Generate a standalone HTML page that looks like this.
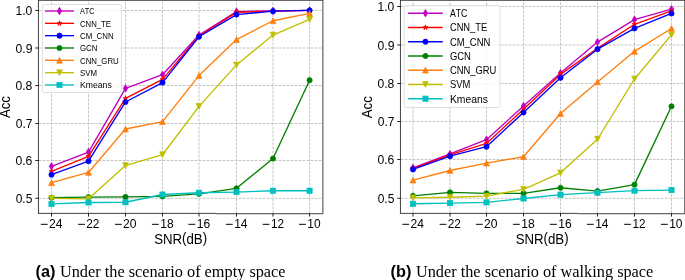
<!DOCTYPE html>
<html><head><meta charset="utf-8"><title>Acc vs SNR</title>
<style>
html,body{margin:0;padding:0;background:#fff;}
body{width:685px;height:280px;overflow:hidden;font-family:"Liberation Sans",sans-serif;}
svg{display:block;will-change:transform;}
text{white-space:pre;font-kerning:none;font-variant-ligatures:none;}
</style></head><body>
<svg width="685" height="280" viewBox="0 0 685 280">
<g font-family="Liberation Sans, sans-serif" fill="#000">
<path d="M51.5 213.4V0.3M88.5 213.4V0.3M125.5 213.4V0.3M162.5 213.4V0.3M199 213.4V0.3M236.5 213.4V0.3M273 213.4V0.3M309.6 213.4V0.3M38.45 198.3H322.9M38.45 160.5H322.9M38.45 123.5H322.9M38.45 85.5H322.9M38.45 48H322.9M38.45 10.5H322.9" stroke="#b0b0b0" stroke-width="0.75" stroke-dasharray="2.7 1.3" stroke-dashoffset="-0.35" fill="none"/>
<polyline points="51.5,166.32 88.5,152.05 125.5,88.39 162.5,74.68 199,35.05 236.5,11.58 273,10.83 309.6,10.45" fill="none" stroke="#bf00bf" stroke-width="1.35" stroke-linejoin="round" stroke-linecap="butt"/>
<polygon points="51.5,162.65 53.71,166.32 51.5,170 49.29,166.32" fill="#bf00bf" stroke="#bf00bf" stroke-width="0.75" stroke-linejoin="miter"/>
<polygon points="88.5,148.37 90.71,152.05 88.5,155.73 86.29,152.05" fill="#bf00bf" stroke="#bf00bf" stroke-width="0.75" stroke-linejoin="miter"/>
<polygon points="125.5,84.71 127.71,88.39 125.5,92.06 123.29,88.39" fill="#bf00bf" stroke="#bf00bf" stroke-width="0.75" stroke-linejoin="miter"/>
<polygon points="162.5,71 164.71,74.68 162.5,78.35 160.29,74.68" fill="#bf00bf" stroke="#bf00bf" stroke-width="0.75" stroke-linejoin="miter"/>
<polygon points="199,31.37 201.21,35.05 199,38.73 196.79,35.05" fill="#bf00bf" stroke="#bf00bf" stroke-width="0.75" stroke-linejoin="miter"/>
<polygon points="236.5,7.9 238.71,11.58 236.5,15.25 234.29,11.58" fill="#bf00bf" stroke="#bf00bf" stroke-width="0.75" stroke-linejoin="miter"/>
<polygon points="273,7.15 275.21,10.83 273,14.5 270.79,10.83" fill="#bf00bf" stroke="#bf00bf" stroke-width="0.75" stroke-linejoin="miter"/>
<polygon points="309.6,6.77 311.81,10.45 309.6,14.13 307.39,10.45" fill="#bf00bf" stroke="#bf00bf" stroke-width="0.75" stroke-linejoin="miter"/>
<polyline points="51.5,171.39 88.5,156.37 125.5,98.34 162.5,79.37 199,35.99 236.5,12.33 273,11.2 309.6,10.45" fill="none" stroke="#ff0000" stroke-width="1.35" stroke-linejoin="round" stroke-linecap="butt"/>
<polygon points="51.5,168.79 50.92,170.59 49.03,170.59 50.56,171.7 49.97,173.5 51.5,172.39 53.03,173.5 52.44,171.7 53.97,170.59 52.08,170.59" fill="#ff0000" stroke="#ff0000" stroke-width="0.75" stroke-linejoin="miter"/>
<polygon points="88.5,153.77 87.92,155.57 86.03,155.57 87.56,156.68 86.97,158.47 88.5,157.36 90.03,158.47 89.44,156.68 90.97,155.57 89.08,155.57" fill="#ff0000" stroke="#ff0000" stroke-width="0.75" stroke-linejoin="miter"/>
<polygon points="125.5,95.74 124.92,97.54 123.03,97.54 124.56,98.65 123.97,100.44 125.5,99.33 127.03,100.44 126.44,98.65 127.97,97.54 126.08,97.54" fill="#ff0000" stroke="#ff0000" stroke-width="0.75" stroke-linejoin="miter"/>
<polygon points="162.5,76.77 161.92,78.57 160.03,78.57 161.56,79.68 160.97,81.48 162.5,80.37 164.03,81.48 163.44,79.68 164.97,78.57 163.08,78.57" fill="#ff0000" stroke="#ff0000" stroke-width="0.75" stroke-linejoin="miter"/>
<polygon points="199,33.39 198.42,35.19 196.53,35.19 198.06,36.3 197.47,38.09 199,36.98 200.53,38.09 199.94,36.3 201.47,35.19 199.58,35.19" fill="#ff0000" stroke="#ff0000" stroke-width="0.75" stroke-linejoin="miter"/>
<polygon points="236.5,9.73 235.92,11.52 234.03,11.52 235.56,12.63 234.97,14.43 236.5,13.32 238.03,14.43 237.44,12.63 238.97,11.52 237.08,11.52" fill="#ff0000" stroke="#ff0000" stroke-width="0.75" stroke-linejoin="miter"/>
<polygon points="273,8.6 272.42,10.4 270.53,10.4 272.06,11.51 271.47,13.3 273,12.19 274.53,13.3 273.94,11.51 275.47,10.4 273.58,10.4" fill="#ff0000" stroke="#ff0000" stroke-width="0.75" stroke-linejoin="miter"/>
<polygon points="309.6,7.85 309.02,9.65 307.13,9.65 308.66,10.76 308.07,12.55 309.6,11.44 311.13,12.55 310.54,10.76 312.07,9.65 310.18,9.65" fill="#ff0000" stroke="#ff0000" stroke-width="0.75" stroke-linejoin="miter"/>
<polyline points="51.5,174.7 88.5,161.22 125.5,101.98 162.5,82.6 199,36.74 236.5,14.58 273,11.2 309.6,10.45" fill="none" stroke="#0000ff" stroke-width="1.35" stroke-linejoin="round" stroke-linecap="butt"/>
<circle cx="51.5" cy="174.7" r="2.6" fill="#0000ff" stroke="#0000ff" stroke-width="0.75" stroke-linejoin="miter"/>
<circle cx="88.5" cy="161.22" r="2.6" fill="#0000ff" stroke="#0000ff" stroke-width="0.75" stroke-linejoin="miter"/>
<circle cx="125.5" cy="101.98" r="2.6" fill="#0000ff" stroke="#0000ff" stroke-width="0.75" stroke-linejoin="miter"/>
<circle cx="162.5" cy="82.6" r="2.6" fill="#0000ff" stroke="#0000ff" stroke-width="0.75" stroke-linejoin="miter"/>
<circle cx="199" cy="36.74" r="2.6" fill="#0000ff" stroke="#0000ff" stroke-width="0.75" stroke-linejoin="miter"/>
<circle cx="236.5" cy="14.58" r="2.6" fill="#0000ff" stroke="#0000ff" stroke-width="0.75" stroke-linejoin="miter"/>
<circle cx="273" cy="11.2" r="2.6" fill="#0000ff" stroke="#0000ff" stroke-width="0.75" stroke-linejoin="miter"/>
<circle cx="309.6" cy="10.45" r="2.6" fill="#0000ff" stroke="#0000ff" stroke-width="0.75" stroke-linejoin="miter"/>
<polyline points="51.5,197.65 88.5,197.05 125.5,196.94 162.5,196.37 199,193.86 236.5,188.3 273,158.55 309.6,80.2" fill="none" stroke="#008000" stroke-width="1.35" stroke-linejoin="round" stroke-linecap="butt"/>
<circle cx="51.5" cy="197.65" r="2.6" fill="#008000" stroke="#008000" stroke-width="0.75" stroke-linejoin="miter"/>
<circle cx="88.5" cy="197.05" r="2.6" fill="#008000" stroke="#008000" stroke-width="0.75" stroke-linejoin="miter"/>
<circle cx="125.5" cy="196.94" r="2.6" fill="#008000" stroke="#008000" stroke-width="0.75" stroke-linejoin="miter"/>
<circle cx="162.5" cy="196.37" r="2.6" fill="#008000" stroke="#008000" stroke-width="0.75" stroke-linejoin="miter"/>
<circle cx="199" cy="193.86" r="2.6" fill="#008000" stroke="#008000" stroke-width="0.75" stroke-linejoin="miter"/>
<circle cx="236.5" cy="188.3" r="2.6" fill="#008000" stroke="#008000" stroke-width="0.75" stroke-linejoin="miter"/>
<circle cx="273" cy="158.55" r="2.6" fill="#008000" stroke="#008000" stroke-width="0.75" stroke-linejoin="miter"/>
<circle cx="309.6" cy="80.2" r="2.6" fill="#008000" stroke="#008000" stroke-width="0.75" stroke-linejoin="miter"/>
<polyline points="51.5,182.7 88.5,172.45 125.5,129.03 162.5,121.7 199,75.58 236.5,39.56 273,20.74 309.6,13.45" fill="none" stroke="#ff7f0e" stroke-width="1.35" stroke-linejoin="round" stroke-linecap="butt"/>
<polygon points="51.5,179.84 48.64,185.56 54.36,185.56" fill="#ff7f0e" stroke="#ff7f0e" stroke-width="0.75" stroke-linejoin="miter"/>
<polygon points="88.5,169.59 85.64,175.31 91.36,175.31" fill="#ff7f0e" stroke="#ff7f0e" stroke-width="0.75" stroke-linejoin="miter"/>
<polygon points="125.5,126.17 122.64,131.89 128.36,131.89" fill="#ff7f0e" stroke="#ff7f0e" stroke-width="0.75" stroke-linejoin="miter"/>
<polygon points="162.5,118.84 159.64,124.56 165.36,124.56" fill="#ff7f0e" stroke="#ff7f0e" stroke-width="0.75" stroke-linejoin="miter"/>
<polygon points="199,72.72 196.14,78.44 201.86,78.44" fill="#ff7f0e" stroke="#ff7f0e" stroke-width="0.75" stroke-linejoin="miter"/>
<polygon points="236.5,36.7 233.64,42.42 239.36,42.42" fill="#ff7f0e" stroke="#ff7f0e" stroke-width="0.75" stroke-linejoin="miter"/>
<polygon points="273,17.88 270.14,23.6 275.86,23.6" fill="#ff7f0e" stroke="#ff7f0e" stroke-width="0.75" stroke-linejoin="miter"/>
<polygon points="309.6,10.59 306.74,16.31 312.46,16.31" fill="#ff7f0e" stroke="#ff7f0e" stroke-width="0.75" stroke-linejoin="miter"/>
<polyline points="51.5,198.36 88.5,198.81 125.5,165.57 162.5,154.72 199,106.42 236.5,64.91 273,35.05 309.6,19.46" fill="none" stroke="#bfbf00" stroke-width="1.35" stroke-linejoin="round" stroke-linecap="butt"/>
<polygon points="51.5,201.22 48.64,195.5 54.36,195.5" fill="#bfbf00" stroke="#bfbf00" stroke-width="0.75" stroke-linejoin="miter"/>
<polygon points="88.5,201.67 85.64,195.95 91.36,195.95" fill="#bfbf00" stroke="#bfbf00" stroke-width="0.75" stroke-linejoin="miter"/>
<polygon points="125.5,168.43 122.64,162.71 128.36,162.71" fill="#bfbf00" stroke="#bfbf00" stroke-width="0.75" stroke-linejoin="miter"/>
<polygon points="162.5,157.58 159.64,151.86 165.36,151.86" fill="#bfbf00" stroke="#bfbf00" stroke-width="0.75" stroke-linejoin="miter"/>
<polygon points="199,109.28 196.14,103.56 201.86,103.56" fill="#bfbf00" stroke="#bfbf00" stroke-width="0.75" stroke-linejoin="miter"/>
<polygon points="236.5,67.77 233.64,62.05 239.36,62.05" fill="#bfbf00" stroke="#bfbf00" stroke-width="0.75" stroke-linejoin="miter"/>
<polygon points="273,37.91 270.14,32.19 275.86,32.19" fill="#bfbf00" stroke="#bfbf00" stroke-width="0.75" stroke-linejoin="miter"/>
<polygon points="309.6,22.32 306.74,16.6 312.46,16.6" fill="#bfbf00" stroke="#bfbf00" stroke-width="0.75" stroke-linejoin="miter"/>
<polyline points="51.5,203.92 88.5,202.46 125.5,202.27 162.5,194.53 199,192.73 236.5,192.05 273,190.74 309.6,190.74" fill="none" stroke="#00bfbf" stroke-width="1.35" stroke-linejoin="round" stroke-linecap="butt"/>
<rect x="48.9" y="201.32" width="5.2" height="5.2" fill="#00bfbf" stroke="#00bfbf" stroke-width="0.75" stroke-linejoin="miter"/>
<rect x="85.9" y="199.86" width="5.2" height="5.2" fill="#00bfbf" stroke="#00bfbf" stroke-width="0.75" stroke-linejoin="miter"/>
<rect x="122.9" y="199.67" width="5.2" height="5.2" fill="#00bfbf" stroke="#00bfbf" stroke-width="0.75" stroke-linejoin="miter"/>
<rect x="159.9" y="191.93" width="5.2" height="5.2" fill="#00bfbf" stroke="#00bfbf" stroke-width="0.75" stroke-linejoin="miter"/>
<rect x="196.4" y="190.13" width="5.2" height="5.2" fill="#00bfbf" stroke="#00bfbf" stroke-width="0.75" stroke-linejoin="miter"/>
<rect x="233.9" y="189.45" width="5.2" height="5.2" fill="#00bfbf" stroke="#00bfbf" stroke-width="0.75" stroke-linejoin="miter"/>
<rect x="270.4" y="188.14" width="5.2" height="5.2" fill="#00bfbf" stroke="#00bfbf" stroke-width="0.75" stroke-linejoin="miter"/>
<rect x="307" y="188.14" width="5.2" height="5.2" fill="#00bfbf" stroke="#00bfbf" stroke-width="0.75" stroke-linejoin="miter"/>
<path d="M38.1 0.3H323.25M38.1 213.4H216.15" stroke="#000" stroke-width="0.75" fill="none"/>
<path d="M216.15 213.72H323.25" stroke="#000" stroke-width="0.75" fill="none"/>
<path d="M38.45 0.3V213.4M322.9 0.3V213.4" stroke="#000" stroke-width="0.75" fill="none"/>
<path d="M51.5 213.4v3.2M88.5 213.4v3.2M125.5 213.4v3.2M162.5 213.4v3.2M199 213.4v3.2M236.5 213.4v3.2M273 213.4v3.2M309.6 213.4v3.2M38.45 198.3h-3.2M38.45 160.5h-3.2M38.45 123.5h-3.2M38.45 85.5h-3.2M38.45 48h-3.2M38.45 10.5h-3.2" stroke="#000" stroke-width="0.85" fill="none"/>
<rect x="40.88" y="223.82" width="6.82" height="0.98"/><text transform="translate(49.05,228) scale(0.9673,1)" font-size="12.47">24</text>
<rect x="78.12" y="223.82" width="6.82" height="0.98"/><text transform="translate(86.3,228) scale(0.9493,1)" font-size="12.47">22</text>
<rect x="114.94" y="223.82" width="6.82" height="0.98"/><text transform="translate(123.11,228) scale(0.9677,1)" font-size="12.47">20</text>
<rect x="151.95" y="223.82" width="6.82" height="0.98"/><text transform="translate(160.21,228) scale(0.9632,1)" font-size="12.47">18</text>
<rect x="188.42" y="223.82" width="6.82" height="0.98"/><text transform="translate(196.67,228) scale(0.9685,1)" font-size="12.47">16</text>
<rect x="225.88" y="223.82" width="6.82" height="0.98"/><text transform="translate(234.14,228) scale(0.9604,1)" font-size="12.47">14</text>
<rect x="262.62" y="223.82" width="6.82" height="0.98"/><text transform="translate(270.9,228) scale(0.9418,1)" font-size="12.47">12</text>
<rect x="299.04" y="223.82" width="6.82" height="0.98"/><text transform="translate(307.3,228) scale(0.9608,1)" font-size="12.47">10</text>
<text transform="translate(15.72,203.05) scale(0.9593,1)" font-size="12.47">0.5</text>
<text transform="translate(15.44,165.25) scale(0.9770,1)" font-size="12.47">0.6</text>
<text transform="translate(15.69,128.25) scale(0.9667,1)" font-size="12.47">0.7</text>
<text transform="translate(15.51,90.25) scale(0.9730,1)" font-size="12.47">0.8</text>
<text transform="translate(15.53,52.75) scale(0.9747,1)" font-size="12.47">0.9</text>
<text transform="translate(15.52,15.25) scale(0.9693,1)" font-size="12.47">1.0</text>
<text transform="translate(154.13,243.6) scale(0.9123,1)" font-size="14.51">SNR<tspan dy="-0.8">(</tspan><tspan dy="0.8">dB</tspan><tspan dy="-0.8">)</tspan></text>
<g transform="translate(9.7,107.2) rotate(-90)"><text transform="translate(-10.88,0) scale(0.9131,1)" font-size="14.51">Acc</text></g>
<rect x="42.5" y="4.5" width="79" height="88" rx="1.5" fill="#fff" fill-opacity="0.8" stroke="#cccccc" stroke-opacity="0.8" stroke-width="0.75"/>
<path d="M45 11H74" stroke="#bf00bf" stroke-width="1.35"/>
<polygon points="59.5,7.32 61.71,11 59.5,14.68 57.29,11" fill="#bf00bf" stroke="#bf00bf" stroke-width="0.75" stroke-linejoin="miter"/>
<text transform="translate(79.99,14.25) scale(0.8003,1)" font-size="9.1">ATC</text>
<path d="M45 23.33H74" stroke="#ff0000" stroke-width="1.35"/>
<polygon points="59.5,20.73 58.92,22.53 57.03,22.53 58.56,23.64 57.97,25.43 59.5,24.32 61.03,25.43 60.44,23.64 61.97,22.53 60.08,22.53" fill="#ff0000" stroke="#ff0000" stroke-width="0.75" stroke-linejoin="miter"/>
<text transform="translate(79.99,26.58) scale(0.8538,1)" font-size="9.1">CNN_TE</text>
<path d="M45 35.66H74" stroke="#0000ff" stroke-width="1.35"/>
<circle cx="59.5" cy="35.66" r="2.6" fill="#0000ff" stroke="#0000ff" stroke-width="0.75" stroke-linejoin="miter"/>
<text transform="translate(79.99,38.91) scale(0.8645,1)" font-size="9.1">CM_CNN</text>
<path d="M45 47.99H74" stroke="#008000" stroke-width="1.35"/>
<circle cx="59.5" cy="47.99" r="2.6" fill="#008000" stroke="#008000" stroke-width="0.75" stroke-linejoin="miter"/>
<text transform="translate(79.99,51.24) scale(0.8641,1)" font-size="9.1">GCN</text>
<path d="M45 60.32H74" stroke="#ff7f0e" stroke-width="1.35"/>
<polygon points="59.5,57.46 56.64,63.18 62.36,63.18" fill="#ff7f0e" stroke="#ff7f0e" stroke-width="0.75" stroke-linejoin="miter"/>
<text transform="translate(79.99,63.57) scale(0.8623,1)" font-size="9.1">CNN_GRU</text>
<path d="M45 72.65H74" stroke="#bfbf00" stroke-width="1.35"/>
<polygon points="59.5,75.51 56.64,69.79 62.36,69.79" fill="#bfbf00" stroke="#bfbf00" stroke-width="0.75" stroke-linejoin="miter"/>
<text transform="translate(80.11,75.9) scale(0.8646,1)" font-size="9.1">SVM</text>
<path d="M45 84.98H74" stroke="#00bfbf" stroke-width="1.35"/>
<rect x="56.9" y="82.38" width="5.2" height="5.2" fill="#00bfbf" stroke="#00bfbf" stroke-width="0.75" stroke-linejoin="miter"/>
<text transform="translate(80.01,88.23) scale(0.9515,1)" font-size="9.1">Kmeans</text>
<path d="M413 213.4V0.3M450 213.4V0.3M486.5 213.4V0.3M523.5 213.4V0.3M560.5 213.4V0.3M597.5 213.4V0.3M634.5 213.4V0.3M671.5 213.4V0.3M400.45 198.3H684.8M400.45 159.5H684.8M400.45 121.5H684.8M400.45 83.5H684.8M400.45 45H684.8M400.45 6.5H684.8" stroke="#b0b0b0" stroke-width="0.75" stroke-dasharray="2.7 1.3" stroke-dashoffset="-0.35" fill="none"/>
<polyline points="413,167.8 450,153.99 486.5,139.69 523.5,106.01 560.5,73.02 597.5,42.1 634.5,19.62 671.5,9.19" fill="none" stroke="#bf00bf" stroke-width="1.35" stroke-linejoin="round" stroke-linecap="butt"/>
<polygon points="413,164.13 415.21,167.8 413,171.48 410.79,167.8" fill="#bf00bf" stroke="#bf00bf" stroke-width="0.75" stroke-linejoin="miter"/>
<polygon points="450,150.32 452.21,153.99 450,157.67 447.79,153.99" fill="#bf00bf" stroke="#bf00bf" stroke-width="0.75" stroke-linejoin="miter"/>
<polygon points="486.5,136.01 488.71,139.69 486.5,143.36 484.29,139.69" fill="#bf00bf" stroke="#bf00bf" stroke-width="0.75" stroke-linejoin="miter"/>
<polygon points="523.5,102.33 525.71,106.01 523.5,109.68 521.29,106.01" fill="#bf00bf" stroke="#bf00bf" stroke-width="0.75" stroke-linejoin="miter"/>
<polygon points="560.5,69.34 562.71,73.02 560.5,76.69 558.29,73.02" fill="#bf00bf" stroke="#bf00bf" stroke-width="0.75" stroke-linejoin="miter"/>
<polygon points="597.5,38.42 599.71,42.1 597.5,45.78 595.29,42.1" fill="#bf00bf" stroke="#bf00bf" stroke-width="0.75" stroke-linejoin="miter"/>
<polygon points="634.5,15.94 636.71,19.62 634.5,23.3 632.29,19.62" fill="#bf00bf" stroke="#bf00bf" stroke-width="0.75" stroke-linejoin="miter"/>
<polygon points="671.5,5.51 673.71,9.19 671.5,12.86 669.29,9.19" fill="#bf00bf" stroke="#bf00bf" stroke-width="0.75" stroke-linejoin="miter"/>
<polyline points="413,168.38 450,154.95 486.5,143.48 523.5,109.19 560.5,74.4 597.5,48.31 634.5,24.3 671.5,10.8" fill="none" stroke="#ff0000" stroke-width="1.35" stroke-linejoin="round" stroke-linecap="butt"/>
<polygon points="413,165.78 412.42,167.58 410.53,167.58 412.06,168.69 411.47,170.48 413,169.37 414.53,170.48 413.94,168.69 415.47,167.58 413.58,167.58" fill="#ff0000" stroke="#ff0000" stroke-width="0.75" stroke-linejoin="miter"/>
<polygon points="450,152.35 449.42,154.15 447.53,154.15 449.06,155.26 448.47,157.06 450,155.95 451.53,157.06 450.94,155.26 452.47,154.15 450.58,154.15" fill="#ff0000" stroke="#ff0000" stroke-width="0.75" stroke-linejoin="miter"/>
<polygon points="486.5,140.88 485.92,142.68 484.03,142.68 485.56,143.79 484.97,145.59 486.5,144.48 488.03,145.59 487.44,143.79 488.97,142.68 487.08,142.68" fill="#ff0000" stroke="#ff0000" stroke-width="0.75" stroke-linejoin="miter"/>
<polygon points="523.5,106.59 522.92,108.39 521.03,108.39 522.56,109.5 521.97,111.29 523.5,110.18 525.03,111.29 524.44,109.5 525.97,108.39 524.08,108.39" fill="#ff0000" stroke="#ff0000" stroke-width="0.75" stroke-linejoin="miter"/>
<polygon points="560.5,71.8 559.92,73.59 558.03,73.59 559.56,74.7 558.97,76.5 560.5,75.39 562.03,76.5 561.44,74.7 562.97,73.59 561.08,73.59" fill="#ff0000" stroke="#ff0000" stroke-width="0.75" stroke-linejoin="miter"/>
<polygon points="597.5,45.71 596.92,47.51 595.03,47.51 596.56,48.62 595.97,50.42 597.5,49.31 599.03,50.42 598.44,48.62 599.97,47.51 598.08,47.51" fill="#ff0000" stroke="#ff0000" stroke-width="0.75" stroke-linejoin="miter"/>
<polygon points="634.5,21.7 633.92,23.5 632.03,23.5 633.56,24.61 632.97,26.4 634.5,25.29 636.03,26.4 635.44,24.61 636.97,23.5 635.08,23.5" fill="#ff0000" stroke="#ff0000" stroke-width="0.75" stroke-linejoin="miter"/>
<polygon points="671.5,8.2 670.92,9.99 669.03,9.99 670.56,11.1 669.97,12.9 671.5,11.79 673.03,12.9 672.44,11.1 673.97,9.99 672.08,9.99" fill="#ff0000" stroke="#ff0000" stroke-width="0.75" stroke-linejoin="miter"/>
<polyline points="413,169.41 450,156.22 486.5,146.71 523.5,112.41 560.5,77.81 597.5,49.19 634.5,28.37 671.5,13.48" fill="none" stroke="#0000ff" stroke-width="1.35" stroke-linejoin="round" stroke-linecap="butt"/>
<circle cx="413" cy="169.41" r="2.6" fill="#0000ff" stroke="#0000ff" stroke-width="0.75" stroke-linejoin="miter"/>
<circle cx="450" cy="156.22" r="2.6" fill="#0000ff" stroke="#0000ff" stroke-width="0.75" stroke-linejoin="miter"/>
<circle cx="486.5" cy="146.71" r="2.6" fill="#0000ff" stroke="#0000ff" stroke-width="0.75" stroke-linejoin="miter"/>
<circle cx="523.5" cy="112.41" r="2.6" fill="#0000ff" stroke="#0000ff" stroke-width="0.75" stroke-linejoin="miter"/>
<circle cx="560.5" cy="77.81" r="2.6" fill="#0000ff" stroke="#0000ff" stroke-width="0.75" stroke-linejoin="miter"/>
<circle cx="597.5" cy="49.19" r="2.6" fill="#0000ff" stroke="#0000ff" stroke-width="0.75" stroke-linejoin="miter"/>
<circle cx="634.5" cy="28.37" r="2.6" fill="#0000ff" stroke="#0000ff" stroke-width="0.75" stroke-linejoin="miter"/>
<circle cx="671.5" cy="13.48" r="2.6" fill="#0000ff" stroke="#0000ff" stroke-width="0.75" stroke-linejoin="miter"/>
<polyline points="413,195.81 450,192.35 486.5,193.31 523.5,193.31 560.5,187.75 597.5,191.09 634.5,184.61 671.5,106.31" fill="none" stroke="#008000" stroke-width="1.35" stroke-linejoin="round" stroke-linecap="butt"/>
<circle cx="413" cy="195.81" r="2.6" fill="#008000" stroke="#008000" stroke-width="0.75" stroke-linejoin="miter"/>
<circle cx="450" cy="192.35" r="2.6" fill="#008000" stroke="#008000" stroke-width="0.75" stroke-linejoin="miter"/>
<circle cx="486.5" cy="193.31" r="2.6" fill="#008000" stroke="#008000" stroke-width="0.75" stroke-linejoin="miter"/>
<circle cx="523.5" cy="193.31" r="2.6" fill="#008000" stroke="#008000" stroke-width="0.75" stroke-linejoin="miter"/>
<circle cx="560.5" cy="187.75" r="2.6" fill="#008000" stroke="#008000" stroke-width="0.75" stroke-linejoin="miter"/>
<circle cx="597.5" cy="191.09" r="2.6" fill="#008000" stroke="#008000" stroke-width="0.75" stroke-linejoin="miter"/>
<circle cx="634.5" cy="184.61" r="2.6" fill="#008000" stroke="#008000" stroke-width="0.75" stroke-linejoin="miter"/>
<circle cx="671.5" cy="106.31" r="2.6" fill="#008000" stroke="#008000" stroke-width="0.75" stroke-linejoin="miter"/>
<polyline points="413,180.08 450,170.49 486.5,163.09 523.5,156.72 560.5,113.52 597.5,81.92 634.5,51.34 671.5,28.48" fill="none" stroke="#ff7f0e" stroke-width="1.35" stroke-linejoin="round" stroke-linecap="butt"/>
<polygon points="413,177.22 410.14,182.94 415.86,182.94" fill="#ff7f0e" stroke="#ff7f0e" stroke-width="0.75" stroke-linejoin="miter"/>
<polygon points="450,167.63 447.14,173.35 452.86,173.35" fill="#ff7f0e" stroke="#ff7f0e" stroke-width="0.75" stroke-linejoin="miter"/>
<polygon points="486.5,160.23 483.64,165.95 489.36,165.95" fill="#ff7f0e" stroke="#ff7f0e" stroke-width="0.75" stroke-linejoin="miter"/>
<polygon points="523.5,153.86 520.64,159.58 526.36,159.58" fill="#ff7f0e" stroke="#ff7f0e" stroke-width="0.75" stroke-linejoin="miter"/>
<polygon points="560.5,110.66 557.64,116.38 563.36,116.38" fill="#ff7f0e" stroke="#ff7f0e" stroke-width="0.75" stroke-linejoin="miter"/>
<polygon points="597.5,79.06 594.64,84.78 600.36,84.78" fill="#ff7f0e" stroke="#ff7f0e" stroke-width="0.75" stroke-linejoin="miter"/>
<polygon points="634.5,48.48 631.64,54.2 637.36,54.2" fill="#ff7f0e" stroke="#ff7f0e" stroke-width="0.75" stroke-linejoin="miter"/>
<polygon points="671.5,25.62 668.64,31.34 674.36,31.34" fill="#ff7f0e" stroke="#ff7f0e" stroke-width="0.75" stroke-linejoin="miter"/>
<polyline points="413,197.92 450,197.26 486.5,196.19 523.5,189.29 560.5,172.87 597.5,139.23 634.5,79 671.5,34.89" fill="none" stroke="#bfbf00" stroke-width="1.35" stroke-linejoin="round" stroke-linecap="butt"/>
<polygon points="413,200.78 410.14,195.06 415.86,195.06" fill="#bfbf00" stroke="#bfbf00" stroke-width="0.75" stroke-linejoin="miter"/>
<polygon points="450,200.12 447.14,194.4 452.86,194.4" fill="#bfbf00" stroke="#bfbf00" stroke-width="0.75" stroke-linejoin="miter"/>
<polygon points="486.5,199.05 483.64,193.33 489.36,193.33" fill="#bfbf00" stroke="#bfbf00" stroke-width="0.75" stroke-linejoin="miter"/>
<polygon points="523.5,192.15 520.64,186.43 526.36,186.43" fill="#bfbf00" stroke="#bfbf00" stroke-width="0.75" stroke-linejoin="miter"/>
<polygon points="560.5,175.73 557.64,170.01 563.36,170.01" fill="#bfbf00" stroke="#bfbf00" stroke-width="0.75" stroke-linejoin="miter"/>
<polygon points="597.5,142.09 594.64,136.37 600.36,136.37" fill="#bfbf00" stroke="#bfbf00" stroke-width="0.75" stroke-linejoin="miter"/>
<polygon points="634.5,81.86 631.64,76.14 637.36,76.14" fill="#bfbf00" stroke="#bfbf00" stroke-width="0.75" stroke-linejoin="miter"/>
<polygon points="671.5,37.75 668.64,32.03 674.36,32.03" fill="#bfbf00" stroke="#bfbf00" stroke-width="0.75" stroke-linejoin="miter"/>
<polyline points="413,203.79 450,203.09 486.5,202.4 523.5,198.49 560.5,194.66 597.5,192.66 634.5,190.7 671.5,190.09" fill="none" stroke="#00bfbf" stroke-width="1.35" stroke-linejoin="round" stroke-linecap="butt"/>
<rect x="410.4" y="201.19" width="5.2" height="5.2" fill="#00bfbf" stroke="#00bfbf" stroke-width="0.75" stroke-linejoin="miter"/>
<rect x="447.4" y="200.5" width="5.2" height="5.2" fill="#00bfbf" stroke="#00bfbf" stroke-width="0.75" stroke-linejoin="miter"/>
<rect x="483.9" y="199.8" width="5.2" height="5.2" fill="#00bfbf" stroke="#00bfbf" stroke-width="0.75" stroke-linejoin="miter"/>
<rect x="520.9" y="195.89" width="5.2" height="5.2" fill="#00bfbf" stroke="#00bfbf" stroke-width="0.75" stroke-linejoin="miter"/>
<rect x="557.9" y="192.06" width="5.2" height="5.2" fill="#00bfbf" stroke="#00bfbf" stroke-width="0.75" stroke-linejoin="miter"/>
<rect x="594.9" y="190.06" width="5.2" height="5.2" fill="#00bfbf" stroke="#00bfbf" stroke-width="0.75" stroke-linejoin="miter"/>
<rect x="631.9" y="188.1" width="5.2" height="5.2" fill="#00bfbf" stroke="#00bfbf" stroke-width="0.75" stroke-linejoin="miter"/>
<rect x="668.9" y="187.49" width="5.2" height="5.2" fill="#00bfbf" stroke="#00bfbf" stroke-width="0.75" stroke-linejoin="miter"/>
<path d="M400.1 0.3H685.15M400.1 213.4H578.15" stroke="#000" stroke-width="0.75" fill="none"/>
<path d="M578.15 213.72H685.15" stroke="#000" stroke-width="0.75" fill="none"/>
<path d="M400.45 0.3V213.4M684.8 0.3V213.4" stroke="#000" stroke-width="0.75" fill="none"/>
<path d="M413 213.4v3.2M450 213.4v3.2M486.5 213.4v3.2M523.5 213.4v3.2M560.5 213.4v3.2M597.5 213.4v3.2M634.5 213.4v3.2M671.5 213.4v3.2M400.45 198.3h-3.2M400.45 159.5h-3.2M400.45 121.5h-3.2M400.45 83.5h-3.2M400.45 45h-3.2M400.45 6.5h-3.2" stroke="#000" stroke-width="0.85" fill="none"/>
<rect x="402.38" y="223.82" width="6.82" height="0.98"/><text transform="translate(410.55,228) scale(0.9673,1)" font-size="12.47">24</text>
<rect x="439.62" y="223.82" width="6.82" height="0.98"/><text transform="translate(447.8,228) scale(0.9493,1)" font-size="12.47">22</text>
<rect x="475.94" y="223.82" width="6.82" height="0.98"/><text transform="translate(484.11,228) scale(0.9677,1)" font-size="12.47">20</text>
<rect x="512.95" y="223.82" width="6.82" height="0.98"/><text transform="translate(521.21,228) scale(0.9632,1)" font-size="12.47">18</text>
<rect x="549.92" y="223.82" width="6.82" height="0.98"/><text transform="translate(558.17,228) scale(0.9685,1)" font-size="12.47">16</text>
<rect x="586.88" y="223.82" width="6.82" height="0.98"/><text transform="translate(595.14,228) scale(0.9604,1)" font-size="12.47">14</text>
<rect x="624.12" y="223.82" width="6.82" height="0.98"/><text transform="translate(632.4,228) scale(0.9418,1)" font-size="12.47">12</text>
<rect x="660.94" y="223.82" width="6.82" height="0.98"/><text transform="translate(669.2,228) scale(0.9608,1)" font-size="12.47">10</text>
<text transform="translate(377.72,203.05) scale(0.9593,1)" font-size="12.47">0.5</text>
<text transform="translate(377.44,164.25) scale(0.9770,1)" font-size="12.47">0.6</text>
<text transform="translate(377.69,126.25) scale(0.9667,1)" font-size="12.47">0.7</text>
<text transform="translate(377.51,88.25) scale(0.9730,1)" font-size="12.47">0.8</text>
<text transform="translate(377.53,49.75) scale(0.9747,1)" font-size="12.47">0.9</text>
<text transform="translate(377.52,11.25) scale(0.9693,1)" font-size="12.47">1.0</text>
<text transform="translate(515.68,243.6) scale(0.9123,1)" font-size="14.51">SNR<tspan dy="-0.8">(</tspan><tspan dy="0.8">dB</tspan><tspan dy="-0.8">)</tspan></text>
<g transform="translate(371.7,107.4) rotate(-90)"><text transform="translate(-10.88,0) scale(0.9131,1)" font-size="14.51">Acc</text></g>
<rect x="404.1" y="5.5" width="95.75" height="102" rx="1.8" fill="#fff" fill-opacity="0.8" stroke="#cccccc" stroke-opacity="0.8" stroke-width="0.75"/>
<path d="M408.1 13.2H442.8" stroke="#bf00bf" stroke-width="1.35"/>
<polygon points="425.45,9.52 427.66,13.2 425.45,16.88 423.24,13.2" fill="#bf00bf" stroke="#bf00bf" stroke-width="0.75" stroke-linejoin="miter"/>
<text transform="translate(449.89,17.08) scale(0.8003,1)" font-size="10.93">ATC</text>
<path d="M408.1 27.45H442.8" stroke="#ff0000" stroke-width="1.35"/>
<polygon points="425.45,24.85 424.87,26.65 422.98,26.65 424.51,27.76 423.92,29.55 425.45,28.44 426.98,29.55 426.39,27.76 427.92,26.65 426.03,26.65" fill="#ff0000" stroke="#ff0000" stroke-width="0.75" stroke-linejoin="miter"/>
<text transform="translate(449.89,31.33) scale(0.8538,1)" font-size="10.93">CNN_TE</text>
<path d="M408.1 41.7H442.8" stroke="#0000ff" stroke-width="1.35"/>
<circle cx="425.45" cy="41.7" r="2.6" fill="#0000ff" stroke="#0000ff" stroke-width="0.75" stroke-linejoin="miter"/>
<text transform="translate(449.89,45.58) scale(0.8645,1)" font-size="10.93">CM_CNN</text>
<path d="M408.1 55.95H442.8" stroke="#008000" stroke-width="1.35"/>
<circle cx="425.45" cy="55.95" r="2.6" fill="#008000" stroke="#008000" stroke-width="0.75" stroke-linejoin="miter"/>
<text transform="translate(449.89,59.83) scale(0.8641,1)" font-size="10.93">GCN</text>
<path d="M408.1 70.2H442.8" stroke="#ff7f0e" stroke-width="1.35"/>
<polygon points="425.45,67.34 422.59,73.06 428.31,73.06" fill="#ff7f0e" stroke="#ff7f0e" stroke-width="0.75" stroke-linejoin="miter"/>
<text transform="translate(449.89,74.08) scale(0.8623,1)" font-size="10.93">CNN_GRU</text>
<path d="M408.1 84.45H442.8" stroke="#bfbf00" stroke-width="1.35"/>
<polygon points="425.45,87.31 422.59,81.59 428.31,81.59" fill="#bfbf00" stroke="#bfbf00" stroke-width="0.75" stroke-linejoin="miter"/>
<text transform="translate(450.03,88.33) scale(0.8646,1)" font-size="10.93">SVM</text>
<path d="M408.1 98.7H442.8" stroke="#00bfbf" stroke-width="1.35"/>
<rect x="422.85" y="96.1" width="5.2" height="5.2" fill="#00bfbf" stroke="#00bfbf" stroke-width="0.75" stroke-linejoin="miter"/>
<text transform="translate(449.91,102.58) scale(0.9515,1)" font-size="10.93">Kmeans</text>
</g>
<text x="35.49" y="277.1" font-size="16.3"><tspan font-family="Liberation Sans, sans-serif" font-weight="bold">(a)</tspan><tspan font-family="Liberation Serif, serif" dx="0.5"> Under the scenario of empty space</tspan></text>
<text x="390.59" y="277.1" font-size="16.3"><tspan font-family="Liberation Sans, sans-serif" font-weight="bold">(b)</tspan><tspan font-family="Liberation Serif, serif" dx="0.5"> Under the scenario of walking space</tspan></text>
</svg>
</body></html>
